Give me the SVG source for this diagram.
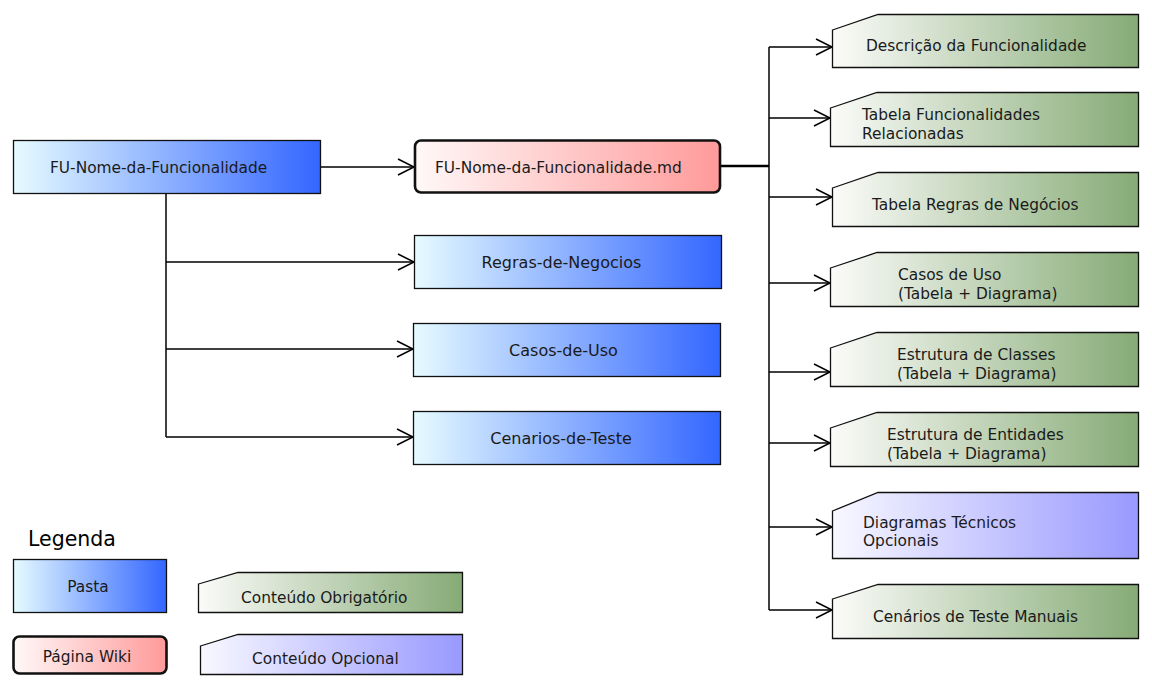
<svg xmlns="http://www.w3.org/2000/svg" width="1152" height="686" viewBox="0 0 1152 686">
<defs>
<linearGradient id="gBlue" x1="0" y1="0" x2="1" y2="0"><stop offset="0" stop-color="#e6fbff"/><stop offset="1" stop-color="#3366ff"/></linearGradient>
<linearGradient id="gRed" x1="0" y1="0" x2="1" y2="0"><stop offset="0" stop-color="#fff8f8"/><stop offset="1" stop-color="#ff9a9a"/></linearGradient>
<linearGradient id="gGreen" x1="0" y1="0" x2="1" y2="0"><stop offset="0" stop-color="#fbfbf9"/><stop offset="1" stop-color="#86ab76"/></linearGradient>
<linearGradient id="gViolet" x1="0" y1="0" x2="1" y2="0"><stop offset="0" stop-color="#f8f8ff"/><stop offset="1" stop-color="#9999ff"/></linearGradient>
<marker id="arr" markerUnits="userSpaceOnUse" markerWidth="20" markerHeight="20" viewBox="-17 -10 20 20" refX="0" refY="0" orient="auto" overflow="visible">
<path d="M-16,-8 L0,0 L-16,8" fill="none" stroke="#000" stroke-width="1.5"/>
</marker>
</defs>
<style>
text{font-family:"DejaVu Sans","Liberation Sans",sans-serif;font-size:15.4px;fill:#1a1a1a}
.big{font-size:16px}
.folder{fill:url(#gBlue);stroke:#111;stroke-width:1.3}
.wiki{fill:url(#gRed);stroke:#111;stroke-width:2.6}
.req{fill:url(#gGreen);stroke:#111;stroke-width:1.3}
.opt{fill:url(#gViolet);stroke:#111;stroke-width:1.3}
.c{text-anchor:middle}
.conn{fill:none;stroke:#000;stroke-width:1.5}
</style>

<g id="connectors">
<path class="conn" d="M320,167 H414" marker-end="url(#arr)"/>
<path class="conn" d="M166,193 V437"/>
<path class="conn" d="M166,262 H414" marker-end="url(#arr)"/>
<path class="conn" d="M166,349 H413" marker-end="url(#arr)"/>
<path class="conn" d="M166,437 H413" marker-end="url(#arr)"/>
<path d="M720,166 H769" fill="none" stroke="#000" stroke-width="2.5"/>
<path class="conn" d="M769,47 V610"/>
<path class="conn" d="M769,47 H832" marker-end="url(#arr)"/>
<path class="conn" d="M769,118 H830" marker-end="url(#arr)"/>
<path class="conn" d="M769,197 H832" marker-end="url(#arr)"/>
<path class="conn" d="M769,283 H830" marker-end="url(#arr)"/>
<path class="conn" d="M769,372 H830" marker-end="url(#arr)"/>
<path class="conn" d="M769,443 H830" marker-end="url(#arr)"/>
<path class="conn" d="M769,527 H832" marker-end="url(#arr)"/>
<path class="conn" d="M769,610 H832" marker-end="url(#arr)"/>
</g>

<g id="fu-folder">
<rect class="folder" x="13.5" y="140.5" width="307" height="53"/>
<text x="50" y="173">FU-Nome-da-Funcionalidade</text>
</g>
<g id="fu-page">
<rect class="wiki" x="415" y="140.5" width="305" height="52" rx="6"/>
<text x="435" y="173">FU-Nome-da-Funcionalidade.md</text>
</g>
<g id="regras">
<rect class="folder" x="414.5" y="235.5" width="307" height="53"/>
<text class="c big" x="561.5" y="268">Regras-de-Negocios</text>
</g>
<g id="casos">
<rect class="folder" x="413.5" y="323.5" width="307" height="53"/>
<text class="c big" x="563.5" y="356">Casos-de-Uso</text>
</g>
<g id="cenarios">
<rect class="folder" x="413.5" y="411.5" width="307" height="53"/>
<text class="c big" x="561" y="444">Cenarios-de-Teste</text>
</g>

<g id="descricao">
<path class="req" d="M832.5,30 L878,14.5 H1138.5 V67.5 H832.5 Z"/>
<text x="866" y="51">Descrição da Funcionalidade</text>
</g>
<g id="tab-func">
<path class="req" d="M830.5,108 L877,92.5 H1138.5 V146.5 H830.5 Z"/>
<text x="862" y="120">Tabela Funcionalidades</text>
<text x="862" y="139">Relacionadas</text>
</g>
<g id="tab-regras">
<path class="req" d="M832.5,188 L878,172.5 H1138.5 V226.5 H832.5 Z"/>
<text x="872" y="210">Tabela Regras de Negócios</text>
</g>
<g id="casos-uso">
<path class="req" d="M830.5,268 L877,252.5 H1138.5 V306.5 H830.5 Z"/>
<text x="898" y="280">Casos de Uso</text>
<text x="898" y="299">(Tabela + Diagrama)</text>
</g>
<g id="classes">
<path class="req" d="M830.5,348 L877,332.5 H1138.5 V386.5 H830.5 Z"/>
<text x="897" y="360">Estrutura de Classes</text>
<text x="897" y="379">(Tabela + Diagrama)</text>
</g>
<g id="entidades">
<path class="req" d="M830.5,428 L877,412.5 H1138.5 V466.5 H830.5 Z"/>
<text x="887" y="440">Estrutura de Entidades</text>
<text x="887" y="459">(Tabela + Diagrama)</text>
</g>
<g id="diagramas">
<path class="opt" d="M832.5,511 L878,492.5 H1138.5 V558.5 H832.5 Z"/>
<text x="863" y="528">Diagramas Técnicos</text>
<text x="863" y="546">Opcionais</text>
</g>
<g id="cenarios-manuais">
<path class="req" d="M832.5,599 L878,584.5 H1138.5 V638.5 H832.5 Z"/>
<text x="873" y="622">Cenários de Teste Manuais</text>
</g>

<g id="legend">
<text x="28" y="546" style="font-size:20.5px;font-weight:500;fill:#000">Legenda</text>
<g id="leg-pasta">
<rect class="folder" x="13.5" y="559.5" width="153" height="53"/>
<text class="c" x="88" y="592">Pasta</text>
</g>
<g id="leg-wiki">
<rect class="wiki" x="13.5" y="636.5" width="153" height="37" rx="6"/>
<text class="c" x="87" y="662">Página Wiki</text>
</g>
<g id="leg-obrig">
<path class="req" d="M198.5,584 L238,572.5 H462.5 V612.5 H198.5 Z"/>
<text x="241" y="603">Conteúdo Obrigatório</text>
</g>
<g id="leg-opc">
<path class="opt" d="M200.5,646 L238,634.5 H462.5 V674.5 H200.5 Z"/>
<text x="252" y="664">Conteúdo Opcional</text>
</g>
</g>
</svg>
